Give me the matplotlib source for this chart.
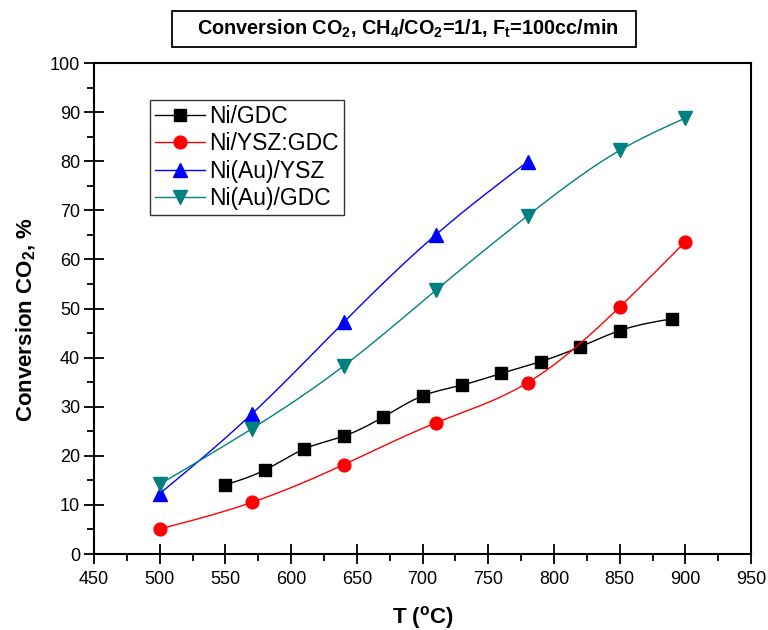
import numpy as np
import matplotlib
matplotlib.use("Agg")
import matplotlib.pyplot as plt
from matplotlib.patches import Rectangle
from matplotlib.ticker import MultipleLocator

plt.rcParams['font.family'] = ['Liberation Sans', 'DejaVu Sans']
plt.rcParams['mathtext.default'] = 'regular'

# Temperature (°C) and CO2 conversion (%) for each catalyst
t_ni_gdc = [550, 580, 610, 640, 670, 700, 730, 760, 790, 820, 850, 890]
c_ni_gdc = [14.1, 17.1, 21.4, 24.0, 27.9, 32.2, 34.4, 36.8, 39.2, 42.2, 45.5, 47.9]

t_ni_ysz_gdc = [500, 570, 640, 710, 780, 850, 900]
c_ni_ysz_gdc = [5.1, 10.5, 18.2, 26.7, 34.9, 50.3, 63.6]

t_niau_ysz = [500, 570, 640, 710, 780]
c_niau_ysz = [12.3, 28.5, 47.2, 65.0, 79.9]

t_niau_gdc = [500, 570, 640, 710, 780, 850, 900]
c_niau_gdc = [14.2, 25.5, 38.3, 53.7, 68.9, 82.2, 88.8]

labels = ['Ni/GDC', 'Ni/YSZ:GDC', 'Ni(Au)/YSZ', 'Ni(Au)/GDC']
colors = ['#000000', '#FF0000', '#0000FF', '#008080']
markers = ['s', 'o', '^', 'v']
msizes = [8.8, 9.2, 10.2, 10.2]


def natural_spline(x, y, n=200):
    """Smooth curve through the points (natural cubic spline)."""
    x = np.asarray(x, float)
    y = np.asarray(y, float)
    k = len(x)
    h = np.diff(x)
    A = np.zeros((k, k))
    b = np.zeros(k)
    A[0, 0] = A[-1, -1] = 1.0
    for i in range(1, k - 1):
        A[i, i - 1] = h[i - 1]
        A[i, i] = 2 * (h[i - 1] + h[i])
        A[i, i + 1] = h[i]
        b[i] = 6 * ((y[i + 1] - y[i]) / h[i] - (y[i] - y[i - 1]) / h[i - 1])
    m = np.linalg.solve(A, b)
    xs = np.linspace(x[0], x[-1], n)
    idx = np.clip(np.searchsorted(x, xs) - 1, 0, k - 2)
    x0, x1 = x[idx], x[idx + 1]
    hh = x1 - x0
    a = (x1 - xs) / hh
    bb = (xs - x0) / hh
    ys = (a * y[idx] + bb * y[idx + 1]
          + ((a ** 3 - a) * m[idx] + (bb ** 3 - bb) * m[idx + 1]) * hh ** 2 / 6)
    return xs, ys


fig = plt.figure(figsize=(7.68, 6.3), dpi=100)
ax = fig.add_axes([0.1224, 0.1206, 0.8556, 0.7794])

series = [(t_ni_gdc, c_ni_gdc), (t_ni_ysz_gdc, c_ni_ysz_gdc),
          (t_niau_ysz, c_niau_ysz), (t_niau_gdc, c_niau_gdc)]

for (tx, cy), lab, col, mk, ms in zip(series, labels, colors, markers, msizes):
    xs, ys = natural_spline(tx, cy)
    ax.plot(xs, ys, color=col, lw=1.0)
    ax.plot(tx, cy, linestyle='none', marker=mk, ms=ms, color=col,
            markeredgecolor=col)
    ax.plot([], [], color=col, lw=1.0, marker=mk, ms=ms, label=lab)

ax.set_xlim(450, 950)
ax.set_ylim(0, 100)
ax.xaxis.set_major_locator(MultipleLocator(50))
ax.xaxis.set_minor_locator(MultipleLocator(25))
ax.yaxis.set_major_locator(MultipleLocator(10))
ax.yaxis.set_minor_locator(MultipleLocator(5))
ax.tick_params(which='major', direction='inout', length=14, width=1.3,
               labelsize=13, top=False, right=False)
ax.tick_params(axis='x', which='major', pad=5.5)
ax.tick_params(axis='y', which='major', pad=3)
ax.tick_params(which='minor', direction='out', length=5, width=1.3,
               top=False, right=False)
for s in ax.spines.values():
    s.set_linewidth(1.5)

ax.set_xlabel(r'T ($^{o}$C)', fontsize=16, fontweight='bold', labelpad=11)
ax.set_ylabel(r'Conversion CO$_2$, %', fontsize=16, fontweight='bold')
ax.yaxis.set_label_coords(-0.0852, 0.4766)

leg = ax.legend(loc='upper left', bbox_to_anchor=(0.0852, 0.9246),
                fontsize=16.5, frameon=True, fancybox=False, edgecolor='black',
                handlelength=2.2, handletextpad=0.2, borderpad=0.2,
                labelspacing=0.2, borderaxespad=0)
leg.get_frame().set_linewidth(1.0)

# Title in a framed box above the plot
fig.patches.append(Rectangle((172 / 768, 1 - 47 / 630), 464 / 768, 36 / 630,
                             transform=fig.transFigure, facecolor='white',
                             edgecolor='black', linewidth=1.3))
fig.text(408 / 768, 1 - 29 / 630,
         r'Conversion CO$_2$, CH$_4$/CO$_2$=1/1, F$_t$=100cc/min',
         ha='center', va='center', fontsize=14.3, fontweight='bold')

fig.savefig('out.png', dpi=100)
